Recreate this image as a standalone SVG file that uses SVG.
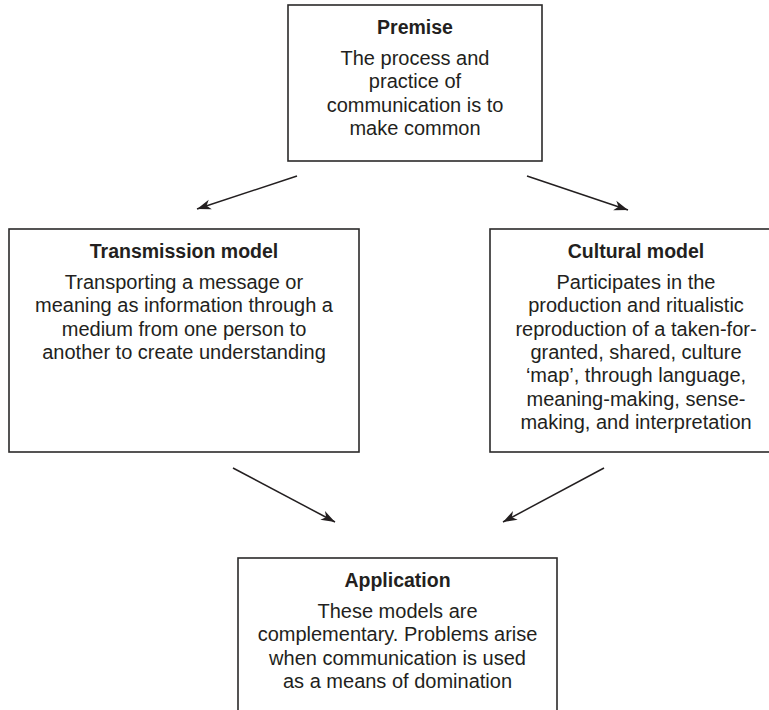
<svg xmlns="http://www.w3.org/2000/svg" width="769" height="710" viewBox="0 0 769 710">
<style>
.box{fill:#fff;stroke:#2b2a2a;stroke-width:1.6}
.t{font-family:"Liberation Sans",Arial,Helvetica,sans-serif;font-size:20px;fill:#231f20;text-anchor:middle}
.h{font-weight:bold;font-size:19.5px}
.c{stroke:#231f20;stroke-width:1.5;fill:none}
</style>
<defs>
<marker id="arr" viewBox="-15 -6 16 12" refX="0" refY="0" markerWidth="16" markerHeight="12" markerUnits="userSpaceOnUse" orient="auto">
<path d="M0,0 L-14,-5 L-10,0 L-14,5 Z" fill="#231f20"/>
</marker>
</defs>
<rect width="769" height="710" fill="#fff"/>
<g id="premise">
<rect class="box" x="288" y="5" width="254" height="156"/>
<text class="t h" x="415" y="34">Premise</text>
<text class="t" x="415" y="65">The process and</text>
<text class="t" x="415" y="88.3">practice of</text>
<text class="t" x="415" y="111.6">communication is to</text>
<text class="t" x="415" y="135">make common</text>
</g>
<g id="transmission">
<rect class="box" x="9" y="229" width="350" height="223"/>
<text class="t h" x="184" y="258">Transmission model</text>
<text class="t" x="184" y="289">Transporting a message or</text>
<text class="t" x="184" y="312.3">meaning as information through a</text>
<text class="t" x="184" y="335.6">medium from one person to</text>
<text class="t" x="184" y="359">another to create understanding</text>
</g>
<g id="cultural">
<rect class="box" x="490" y="229" width="292" height="223"/>
<text class="t h" x="636" y="258">Cultural model</text>
<text class="t" x="636" y="289">Participates in the</text>
<text class="t" x="636" y="312.3">production and ritualistic</text>
<text class="t" x="636" y="335.6">reproduction of a taken-for-</text>
<text class="t" x="636" y="359">granted, shared, culture</text>
<text class="t" x="636" y="382.2">‘map’, through language,</text>
<text class="t" x="636" y="405.5">meaning-making, sense-</text>
<text class="t" x="636" y="428.8">making, and interpretation</text>
</g>
<g id="application">
<rect class="box" x="238" y="558" width="319" height="160"/>
<text class="t h" x="397.5" y="587">Application</text>
<text class="t" x="397.5" y="618">These models are</text>
<text class="t" x="397.5" y="641.3">complementary. Problems arise</text>
<text class="t" x="397.5" y="664.6">when communication is used</text>
<text class="t" x="397.5" y="688">as a means of domination</text>
</g>
<g id="connectors">
<line class="c" x1="297" y1="176" x2="197" y2="209" marker-end="url(#arr)"/>
<line class="c" x1="527" y1="176" x2="628" y2="210" marker-end="url(#arr)"/>
<line class="c" x1="233" y1="468" x2="335" y2="522" marker-end="url(#arr)"/>
<line class="c" x1="604" y1="468" x2="503" y2="522" marker-end="url(#arr)"/>
</g>
</svg>
